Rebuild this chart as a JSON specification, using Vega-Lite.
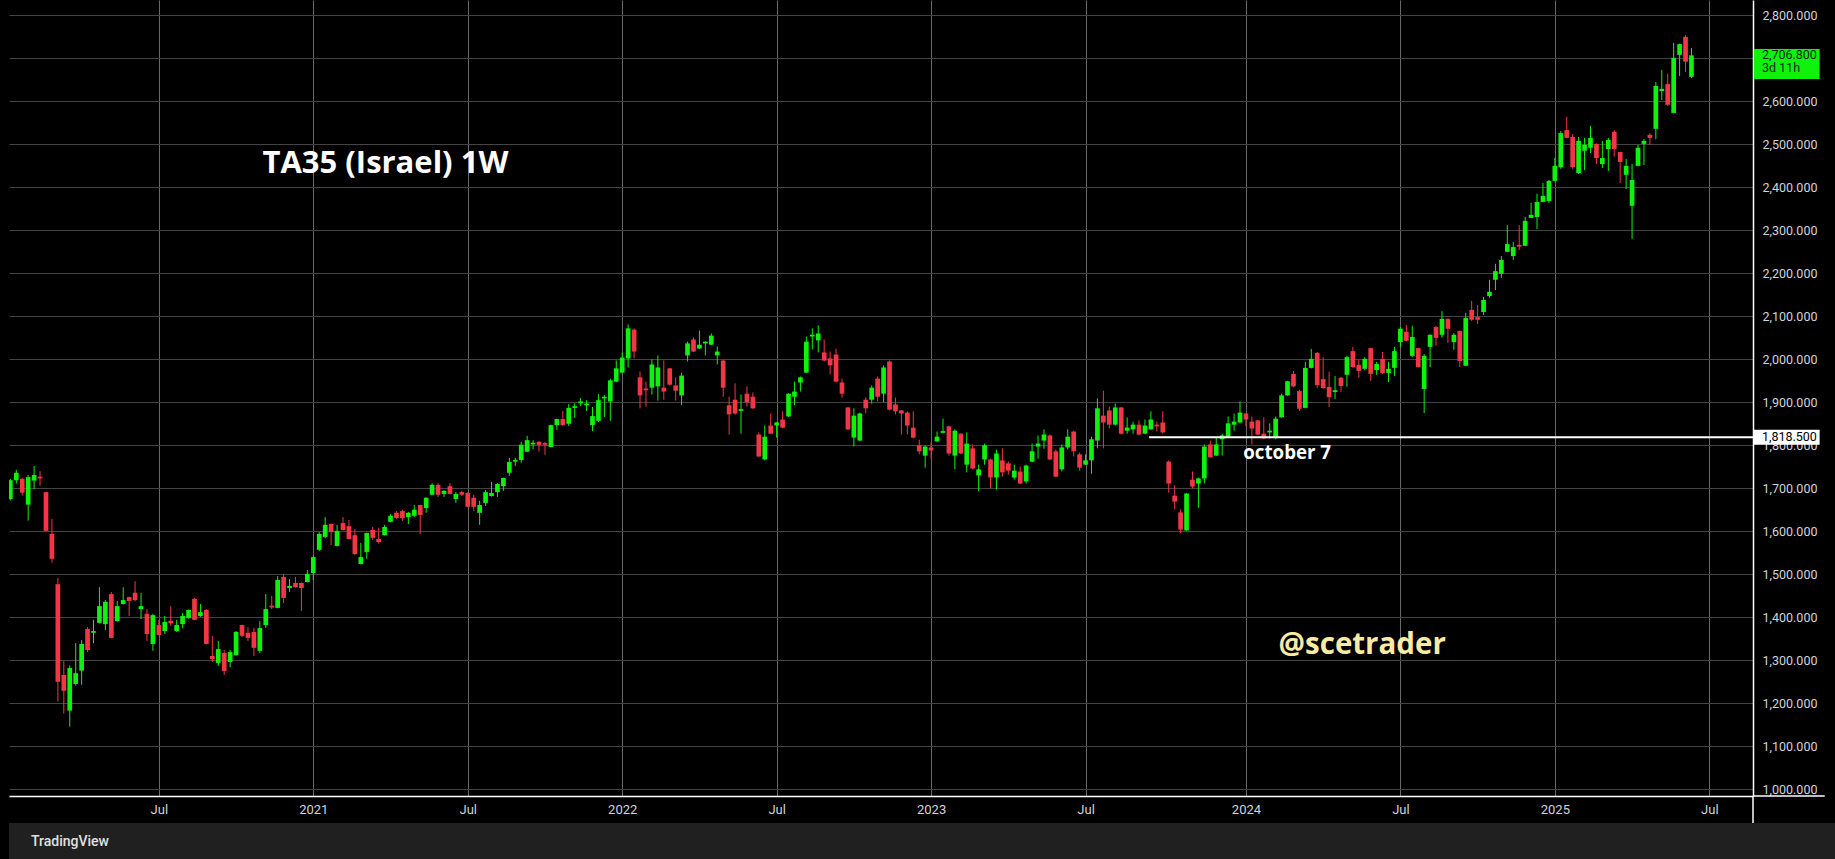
{
"$schema": "https://vega.github.io/schema/vega-lite/v6.json",
"background": "#000000",
"padding": {"left": 9, "top": 0, "right": 0, "bottom": 0},
"autosize": {"type": "pad"},
"config": {"view": {"stroke": null}, "font": "Roboto", "scale": {"continuousPadding": 0}},
"spacing": 27,
"bounds": "flush",
"datasets": {
"candles": [
{"d":"2020-01-12","o":1675,"h":1722,"l":1672,"c":1719},
{"d":"2020-01-19","o":1719,"h":1743,"l":1711,"c":1736},
{"d":"2020-01-26","o":1722,"h":1725,"l":1683,"c":1690},
{"d":"2020-02-02","o":1662,"h":1731,"l":1625,"c":1726},
{"d":"2020-02-09","o":1718,"h":1752,"l":1698,"c":1731},
{"d":"2020-02-16","o":1727,"h":1740,"l":1706,"c":1723},
{"d":"2020-02-23","o":1691,"h":1692,"l":1600,"c":1601},
{"d":"2020-03-01","o":1594,"h":1629,"l":1527,"c":1536},
{"d":"2020-03-08","o":1477,"h":1491,"l":1204,"c":1250},
{"d":"2020-03-15","o":1266,"h":1298,"l":1176,"c":1229},
{"d":"2020-03-22","o":1183,"h":1288,"l":1146,"c":1282},
{"d":"2020-03-29","o":1245,"h":1340,"l":1241,"c":1270},
{"d":"2020-04-05","o":1276,"h":1347,"l":1243,"c":1338},
{"d":"2020-04-12","o":1373,"h":1377,"l":1319,"c":1324},
{"d":"2020-04-19","o":1364,"h":1394,"l":1340,"c":1368},
{"d":"2020-04-26","o":1387,"h":1470,"l":1386,"c":1426},
{"d":"2020-05-03","o":1384,"h":1440,"l":1370,"c":1436},
{"d":"2020-05-10","o":1454,"h":1459,"l":1351,"c":1352},
{"d":"2020-05-17","o":1391,"h":1438,"l":1390,"c":1426},
{"d":"2020-05-24","o":1431,"h":1470,"l":1430,"c":1440},
{"d":"2020-05-31","o":1447,"h":1448,"l":1403,"c":1438},
{"d":"2020-06-07","o":1457,"h":1484,"l":1437,"c":1440},
{"d":"2020-06-14","o":1419,"h":1457,"l":1396,"c":1426},
{"d":"2020-06-21","o":1408,"h":1419,"l":1345,"c":1361},
{"d":"2020-06-28","o":1338,"h":1408,"l":1322,"c":1405},
{"d":"2020-07-05","o":1382,"h":1394,"l":1358,"c":1359},
{"d":"2020-07-12","o":1368,"h":1403,"l":1361,"c":1389},
{"d":"2020-07-19","o":1392,"h":1426,"l":1380,"c":1386},
{"d":"2020-07-26","o":1368,"h":1394,"l":1366,"c":1382},
{"d":"2020-08-02","o":1384,"h":1410,"l":1375,"c":1403},
{"d":"2020-08-09","o":1398,"h":1418,"l":1397,"c":1417},
{"d":"2020-08-16","o":1443,"h":1445,"l":1393,"c":1394},
{"d":"2020-08-23","o":1403,"h":1431,"l":1401,"c":1412},
{"d":"2020-08-30","o":1417,"h":1419,"l":1337,"c":1338},
{"d":"2020-09-06","o":1310,"h":1357,"l":1296,"c":1303},
{"d":"2020-09-13","o":1294,"h":1345,"l":1287,"c":1326},
{"d":"2020-09-20","o":1317,"h":1324,"l":1266,"c":1275},
{"d":"2020-09-27","o":1296,"h":1324,"l":1284,"c":1319},
{"d":"2020-10-04","o":1312,"h":1368,"l":1311,"c":1366},
{"d":"2020-10-11","o":1382,"h":1383,"l":1354,"c":1357},
{"d":"2020-10-18","o":1364,"h":1377,"l":1345,"c":1352},
{"d":"2020-10-25","o":1366,"h":1375,"l":1310,"c":1329},
{"d":"2020-11-01","o":1322,"h":1391,"l":1317,"c":1375},
{"d":"2020-11-08","o":1382,"h":1454,"l":1375,"c":1419},
{"d":"2020-11-15","o":1427,"h":1450,"l":1419,"c":1423},
{"d":"2020-11-22","o":1422,"h":1496,"l":1421,"c":1487},
{"d":"2020-11-29","o":1494,"h":1501,"l":1433,"c":1445},
{"d":"2020-12-06","o":1468,"h":1489,"l":1459,"c":1473},
{"d":"2020-12-13","o":1480,"h":1494,"l":1469,"c":1470},
{"d":"2020-12-20","o":1480,"h":1481,"l":1415,"c":1468},
{"d":"2020-12-27","o":1482,"h":1510,"l":1481,"c":1501},
{"d":"2021-01-03","o":1503,"h":1543,"l":1487,"c":1540},
{"d":"2021-01-10","o":1557,"h":1598,"l":1554,"c":1594},
{"d":"2021-01-17","o":1587,"h":1633,"l":1584,"c":1615},
{"d":"2021-01-24","o":1617,"h":1618,"l":1568,"c":1598},
{"d":"2021-01-31","o":1566,"h":1615,"l":1565,"c":1601},
{"d":"2021-02-07","o":1619,"h":1633,"l":1602,"c":1603},
{"d":"2021-02-14","o":1612,"h":1626,"l":1581,"c":1582},
{"d":"2021-02-21","o":1591,"h":1605,"l":1545,"c":1547},
{"d":"2021-02-28","o":1524,"h":1573,"l":1523,"c":1540},
{"d":"2021-03-07","o":1552,"h":1597,"l":1536,"c":1596},
{"d":"2021-03-14","o":1603,"h":1610,"l":1580,"c":1585},
{"d":"2021-03-21","o":1582,"h":1608,"l":1571,"c":1575},
{"d":"2021-03-28","o":1591,"h":1615,"l":1590,"c":1610},
{"d":"2021-04-04","o":1622,"h":1640,"l":1621,"c":1636},
{"d":"2021-04-11","o":1643,"h":1647,"l":1629,"c":1631},
{"d":"2021-04-18","o":1647,"h":1650,"l":1624,"c":1631},
{"d":"2021-04-25","o":1633,"h":1645,"l":1617,"c":1643},
{"d":"2021-05-02","o":1636,"h":1661,"l":1633,"c":1650},
{"d":"2021-05-09","o":1661,"h":1662,"l":1594,"c":1638},
{"d":"2021-05-16","o":1654,"h":1679,"l":1643,"c":1678},
{"d":"2021-05-23","o":1685,"h":1712,"l":1684,"c":1708},
{"d":"2021-05-30","o":1708,"h":1712,"l":1680,"c":1685},
{"d":"2021-06-06","o":1687,"h":1696,"l":1680,"c":1694},
{"d":"2021-06-13","o":1705,"h":1712,"l":1686,"c":1687},
{"d":"2021-06-20","o":1675,"h":1691,"l":1666,"c":1687},
{"d":"2021-06-27","o":1691,"h":1694,"l":1682,"c":1685},
{"d":"2021-07-04","o":1689,"h":1691,"l":1656,"c":1657},
{"d":"2021-07-11","o":1678,"h":1685,"l":1647,"c":1657},
{"d":"2021-07-18","o":1643,"h":1671,"l":1615,"c":1661},
{"d":"2021-07-25","o":1666,"h":1696,"l":1659,"c":1691},
{"d":"2021-08-01","o":1682,"h":1715,"l":1681,"c":1689},
{"d":"2021-08-08","o":1691,"h":1712,"l":1680,"c":1710},
{"d":"2021-08-15","o":1705,"h":1725,"l":1694,"c":1724},
{"d":"2021-08-22","o":1736,"h":1771,"l":1729,"c":1761},
{"d":"2021-08-29","o":1762,"h":1771,"l":1752,"c":1766},
{"d":"2021-09-05","o":1766,"h":1808,"l":1759,"c":1801},
{"d":"2021-09-12","o":1785,"h":1822,"l":1784,"c":1812},
{"d":"2021-09-19","o":1802,"h":1812,"l":1791,"c":1806},
{"d":"2021-09-26","o":1808,"h":1810,"l":1785,"c":1801},
{"d":"2021-10-03","o":1805,"h":1808,"l":1778,"c":1801},
{"d":"2021-10-10","o":1796,"h":1848,"l":1795,"c":1847},
{"d":"2021-10-17","o":1847,"h":1862,"l":1836,"c":1861},
{"d":"2021-10-24","o":1861,"h":1880,"l":1845,"c":1847},
{"d":"2021-10-31","o":1850,"h":1896,"l":1845,"c":1887},
{"d":"2021-11-07","o":1887,"h":1898,"l":1864,"c":1891},
{"d":"2021-11-14","o":1898,"h":1910,"l":1891,"c":1902},
{"d":"2021-11-21","o":1893,"h":1905,"l":1880,"c":1897},
{"d":"2021-11-28","o":1847,"h":1889,"l":1833,"c":1868},
{"d":"2021-12-05","o":1857,"h":1919,"l":1854,"c":1905},
{"d":"2021-12-12","o":1909,"h":1917,"l":1866,"c":1913},
{"d":"2021-12-19","o":1902,"h":1955,"l":1857,"c":1951},
{"d":"2021-12-26","o":1948,"h":1997,"l":1947,"c":1979},
{"d":"2022-01-02","o":1969,"h":2016,"l":1968,"c":2004},
{"d":"2022-01-09","o":2002,"h":2081,"l":1981,"c":2072},
{"d":"2022-01-16","o":2069,"h":2072,"l":2002,"c":2018},
{"d":"2022-01-23","o":1958,"h":1972,"l":1886,"c":1916},
{"d":"2022-01-30","o":1932,"h":1948,"l":1890,"c":1928},
{"d":"2022-02-06","o":1934,"h":2000,"l":1918,"c":1988},
{"d":"2022-02-13","o":1937,"h":2009,"l":1904,"c":1981},
{"d":"2022-02-20","o":1934,"h":1997,"l":1906,"c":1925},
{"d":"2022-02-27","o":1979,"h":1980,"l":1939,"c":1941},
{"d":"2022-03-06","o":1939,"h":1958,"l":1904,"c":1927},
{"d":"2022-03-13","o":1916,"h":1969,"l":1893,"c":1962},
{"d":"2022-03-20","o":2009,"h":2041,"l":1995,"c":2037},
{"d":"2022-03-27","o":2046,"h":2051,"l":2017,"c":2018},
{"d":"2022-04-03","o":2025,"h":2067,"l":2024,"c":2034},
{"d":"2022-04-10","o":2037,"h":2042,"l":2009,"c":2041},
{"d":"2022-04-17","o":2034,"h":2060,"l":2033,"c":2055},
{"d":"2022-04-24","o":2009,"h":2030,"l":1988,"c":2018},
{"d":"2022-05-01","o":1997,"h":1998,"l":1913,"c":1934},
{"d":"2022-05-08","o":1893,"h":1913,"l":1825,"c":1872},
{"d":"2022-05-15","o":1906,"h":1944,"l":1871,"c":1874},
{"d":"2022-05-22","o":1880,"h":1918,"l":1827,"c":1884},
{"d":"2022-05-29","o":1920,"h":1937,"l":1890,"c":1900},
{"d":"2022-06-05","o":1913,"h":1923,"l":1885,"c":1886},
{"d":"2022-06-12","o":1825,"h":1830,"l":1772,"c":1774},
{"d":"2022-06-19","o":1767,"h":1846,"l":1765,"c":1820},
{"d":"2022-06-26","o":1846,"h":1874,"l":1826,"c":1827},
{"d":"2022-07-03","o":1846,"h":1854,"l":1818,"c":1853},
{"d":"2022-07-10","o":1860,"h":1879,"l":1840,"c":1841},
{"d":"2022-07-17","o":1867,"h":1921,"l":1866,"c":1920},
{"d":"2022-07-24","o":1913,"h":1948,"l":1893,"c":1925},
{"d":"2022-07-31","o":1946,"h":1960,"l":1925,"c":1958},
{"d":"2022-08-07","o":1969,"h":2053,"l":1968,"c":2041},
{"d":"2022-08-14","o":2053,"h":2072,"l":2023,"c":2057},
{"d":"2022-08-21","o":2044,"h":2079,"l":2016,"c":2060},
{"d":"2022-08-28","o":2016,"h":2046,"l":1995,"c":1997},
{"d":"2022-09-04","o":2002,"h":2018,"l":1965,"c":1986},
{"d":"2022-09-11","o":2011,"h":2025,"l":1946,"c":1948},
{"d":"2022-09-18","o":1946,"h":1955,"l":1911,"c":1920},
{"d":"2022-09-25","o":1888,"h":1889,"l":1836,"c":1837},
{"d":"2022-10-02","o":1818,"h":1886,"l":1797,"c":1869},
{"d":"2022-10-09","o":1811,"h":1876,"l":1810,"c":1874},
{"d":"2022-10-16","o":1906,"h":1911,"l":1874,"c":1886},
{"d":"2022-10-23","o":1906,"h":1939,"l":1897,"c":1934},
{"d":"2022-10-30","o":1955,"h":1960,"l":1902,"c":1913},
{"d":"2022-11-06","o":1920,"h":1986,"l":1900,"c":1981},
{"d":"2022-11-13","o":1995,"h":1997,"l":1881,"c":1883},
{"d":"2022-11-20","o":1895,"h":1911,"l":1872,"c":1879},
{"d":"2022-11-27","o":1881,"h":1882,"l":1825,"c":1874},
{"d":"2022-12-04","o":1876,"h":1879,"l":1825,"c":1846},
{"d":"2022-12-11","o":1841,"h":1879,"l":1816,"c":1818},
{"d":"2022-12-18","o":1800,"h":1813,"l":1779,"c":1786},
{"d":"2022-12-25","o":1776,"h":1800,"l":1748,"c":1797},
{"d":"2023-01-01","o":1795,"h":1807,"l":1769,"c":1788},
{"d":"2023-01-08","o":1809,"h":1832,"l":1808,"c":1820},
{"d":"2023-01-15","o":1829,"h":1862,"l":1828,"c":1833},
{"d":"2023-01-22","o":1844,"h":1846,"l":1776,"c":1781},
{"d":"2023-01-29","o":1776,"h":1837,"l":1744,"c":1834},
{"d":"2023-02-05","o":1827,"h":1828,"l":1780,"c":1781},
{"d":"2023-02-12","o":1755,"h":1830,"l":1737,"c":1804},
{"d":"2023-02-19","o":1793,"h":1802,"l":1744,"c":1746},
{"d":"2023-02-26","o":1730,"h":1755,"l":1693,"c":1744},
{"d":"2023-03-05","o":1767,"h":1804,"l":1755,"c":1800},
{"d":"2023-03-12","o":1767,"h":1769,"l":1700,"c":1725},
{"d":"2023-03-19","o":1725,"h":1790,"l":1697,"c":1781},
{"d":"2023-03-26","o":1765,"h":1793,"l":1727,"c":1737},
{"d":"2023-04-02","o":1758,"h":1762,"l":1732,"c":1741},
{"d":"2023-04-09","o":1725,"h":1755,"l":1720,"c":1741},
{"d":"2023-04-16","o":1739,"h":1751,"l":1710,"c":1711},
{"d":"2023-04-23","o":1716,"h":1755,"l":1711,"c":1753},
{"d":"2023-04-30","o":1762,"h":1804,"l":1761,"c":1786},
{"d":"2023-05-07","o":1797,"h":1823,"l":1769,"c":1804},
{"d":"2023-05-14","o":1811,"h":1837,"l":1792,"c":1825},
{"d":"2023-05-21","o":1823,"h":1825,"l":1766,"c":1767},
{"d":"2023-05-28","o":1786,"h":1790,"l":1726,"c":1727},
{"d":"2023-06-04","o":1744,"h":1802,"l":1739,"c":1795},
{"d":"2023-06-11","o":1795,"h":1837,"l":1790,"c":1820},
{"d":"2023-06-18","o":1832,"h":1834,"l":1774,"c":1786},
{"d":"2023-06-25","o":1779,"h":1783,"l":1741,"c":1748},
{"d":"2023-07-02","o":1755,"h":1779,"l":1754,"c":1765},
{"d":"2023-07-09","o":1765,"h":1820,"l":1734,"c":1814},
{"d":"2023-07-16","o":1811,"h":1909,"l":1793,"c":1886},
{"d":"2023-07-23","o":1869,"h":1927,"l":1793,"c":1853},
{"d":"2023-07-30","o":1881,"h":1890,"l":1839,"c":1848},
{"d":"2023-08-06","o":1848,"h":1897,"l":1846,"c":1888},
{"d":"2023-08-13","o":1888,"h":1889,"l":1825,"c":1827},
{"d":"2023-08-20","o":1834,"h":1865,"l":1827,"c":1841},
{"d":"2023-08-27","o":1837,"h":1855,"l":1827,"c":1848},
{"d":"2023-09-03","o":1848,"h":1858,"l":1823,"c":1825},
{"d":"2023-09-10","o":1827,"h":1860,"l":1826,"c":1846},
{"d":"2023-09-17","o":1837,"h":1879,"l":1836,"c":1860},
{"d":"2023-09-24","o":1848,"h":1855,"l":1832,"c":1844},
{"d":"2023-10-01","o":1853,"h":1879,"l":1827,"c":1830},
{"d":"2023-10-08","o":1762,"h":1765,"l":1690,"c":1711},
{"d":"2023-10-15","o":1683,"h":1707,"l":1651,"c":1669},
{"d":"2023-10-22","o":1644,"h":1651,"l":1595,"c":1604},
{"d":"2023-10-29","o":1602,"h":1689,"l":1601,"c":1688},
{"d":"2023-11-05","o":1720,"h":1739,"l":1700,"c":1704},
{"d":"2023-11-12","o":1711,"h":1725,"l":1655,"c":1723},
{"d":"2023-11-19","o":1723,"h":1802,"l":1711,"c":1797},
{"d":"2023-11-26","o":1802,"h":1811,"l":1771,"c":1772},
{"d":"2023-12-03","o":1776,"h":1818,"l":1775,"c":1802},
{"d":"2023-12-10","o":1814,"h":1827,"l":1776,"c":1823},
{"d":"2023-12-17","o":1820,"h":1867,"l":1818,"c":1851},
{"d":"2023-12-24","o":1848,"h":1874,"l":1834,"c":1855},
{"d":"2023-12-31","o":1853,"h":1902,"l":1851,"c":1876},
{"d":"2024-01-07","o":1874,"h":1875,"l":1844,"c":1860},
{"d":"2024-01-14","o":1855,"h":1867,"l":1802,"c":1839},
{"d":"2024-01-21","o":1858,"h":1859,"l":1824,"c":1825},
{"d":"2024-01-28","o":1827,"h":1865,"l":1815,"c":1816},
{"d":"2024-02-04","o":1830,"h":1851,"l":1816,"c":1834},
{"d":"2024-02-11","o":1818,"h":1867,"l":1814,"c":1862},
{"d":"2024-02-18","o":1865,"h":1920,"l":1864,"c":1916},
{"d":"2024-02-25","o":1916,"h":1950,"l":1915,"c":1949},
{"d":"2024-03-03","o":1966,"h":1973,"l":1935,"c":1937},
{"d":"2024-03-10","o":1926,"h":1929,"l":1880,"c":1885},
{"d":"2024-03-17","o":1887,"h":1994,"l":1886,"c":1980},
{"d":"2024-03-24","o":1980,"h":2024,"l":1979,"c":2001},
{"d":"2024-03-31","o":2015,"h":2017,"l":1933,"c":1940},
{"d":"2024-04-07","o":1954,"h":2005,"l":1932,"c":1933},
{"d":"2024-04-14","o":1936,"h":1971,"l":1889,"c":1912},
{"d":"2024-04-21","o":1924,"h":1961,"l":1908,"c":1928},
{"d":"2024-04-28","o":1957,"h":1959,"l":1924,"c":1938},
{"d":"2024-05-05","o":1964,"h":2008,"l":1936,"c":2005},
{"d":"2024-05-12","o":2019,"h":2029,"l":1980,"c":1982},
{"d":"2024-05-19","o":1987,"h":1998,"l":1957,"c":1973},
{"d":"2024-05-26","o":1978,"h":2005,"l":1975,"c":2001},
{"d":"2024-06-02","o":2026,"h":2027,"l":1950,"c":1966},
{"d":"2024-06-09","o":1975,"h":1994,"l":1964,"c":1989},
{"d":"2024-06-16","o":2001,"h":2017,"l":1966,"c":1968},
{"d":"2024-06-23","o":1968,"h":1994,"l":1947,"c":1978},
{"d":"2024-06-30","o":1980,"h":2029,"l":1961,"c":2019},
{"d":"2024-07-07","o":2040,"h":2075,"l":2029,"c":2071},
{"d":"2024-07-14","o":2064,"h":2080,"l":2042,"c":2043},
{"d":"2024-07-21","o":2008,"h":2078,"l":2005,"c":2052},
{"d":"2024-07-28","o":2026,"h":2027,"l":1981,"c":1982},
{"d":"2024-08-04","o":1931,"h":2012,"l":1875,"c":2008},
{"d":"2024-08-11","o":2029,"h":2058,"l":1982,"c":2057},
{"d":"2024-08-18","o":2075,"h":2078,"l":2031,"c":2050},
{"d":"2024-08-25","o":2057,"h":2112,"l":2050,"c":2094},
{"d":"2024-09-01","o":2094,"h":2095,"l":2038,"c":2071},
{"d":"2024-09-08","o":2040,"h":2061,"l":2022,"c":2057},
{"d":"2024-09-15","o":2066,"h":2067,"l":1982,"c":1996},
{"d":"2024-09-22","o":1985,"h":2108,"l":1984,"c":2096},
{"d":"2024-09-29","o":2115,"h":2136,"l":2089,"c":2092},
{"d":"2024-10-06","o":2098,"h":2126,"l":2082,"c":2092},
{"d":"2024-10-13","o":2110,"h":2145,"l":2103,"c":2138},
{"d":"2024-10-20","o":2147,"h":2185,"l":2143,"c":2157},
{"d":"2024-10-27","o":2185,"h":2222,"l":2161,"c":2205},
{"d":"2024-11-03","o":2199,"h":2240,"l":2189,"c":2231},
{"d":"2024-11-10","o":2250,"h":2312,"l":2249,"c":2268},
{"d":"2024-11-17","o":2240,"h":2273,"l":2231,"c":2261},
{"d":"2024-11-24","o":2266,"h":2312,"l":2254,"c":2262},
{"d":"2024-12-01","o":2264,"h":2331,"l":2263,"c":2322},
{"d":"2024-12-08","o":2329,"h":2364,"l":2328,"c":2336},
{"d":"2024-12-15","o":2331,"h":2385,"l":2303,"c":2366},
{"d":"2024-12-22","o":2366,"h":2410,"l":2365,"c":2380},
{"d":"2024-12-29","o":2368,"h":2417,"l":2364,"c":2415},
{"d":"2025-01-05","o":2415,"h":2468,"l":2414,"c":2450},
{"d":"2025-01-12","o":2447,"h":2531,"l":2443,"c":2526},
{"d":"2025-01-19","o":2533,"h":2564,"l":2514,"c":2515},
{"d":"2025-01-26","o":2517,"h":2524,"l":2443,"c":2447},
{"d":"2025-02-02","o":2433,"h":2517,"l":2431,"c":2508},
{"d":"2025-02-09","o":2485,"h":2515,"l":2440,"c":2499},
{"d":"2025-02-16","o":2492,"h":2543,"l":2480,"c":2515},
{"d":"2025-02-23","o":2501,"h":2502,"l":2454,"c":2468},
{"d":"2025-03-02","o":2454,"h":2508,"l":2445,"c":2468},
{"d":"2025-03-09","o":2489,"h":2515,"l":2438,"c":2510},
{"d":"2025-03-16","o":2529,"h":2533,"l":2471,"c":2489},
{"d":"2025-03-23","o":2482,"h":2483,"l":2410,"c":2459},
{"d":"2025-03-30","o":2429,"h":2466,"l":2396,"c":2450},
{"d":"2025-04-06","o":2357,"h":2454,"l":2280,"c":2417},
{"d":"2025-04-13","o":2450,"h":2499,"l":2449,"c":2492},
{"d":"2025-04-20","o":2501,"h":2512,"l":2452,"c":2508},
{"d":"2025-04-27","o":2522,"h":2526,"l":2499,"c":2515},
{"d":"2025-05-04","o":2536,"h":2645,"l":2512,"c":2636},
{"d":"2025-05-11","o":2624,"h":2673,"l":2603,"c":2629},
{"d":"2025-05-18","o":2640,"h":2664,"l":2589,"c":2592},
{"d":"2025-05-25","o":2573,"h":2736,"l":2572,"c":2701},
{"d":"2025-06-01","o":2708,"h":2734,"l":2659,"c":2733},
{"d":"2025-06-08","o":2750,"h":2754,"l":2668,"c":2692},
{"d":"2025-06-15","o":2657,"h":2724,"l":2654,"c":2706.8}
]
},
"vconcat": [
{
"width": 1744,
"height": 796,
"layer": [
{
"data": {"name": "candles"},
"mark": {"type": "rule", "strokeWidth": 1, "clip": true},
"encoding": {
"x": {"field": "d", "type": "temporal",
"scale": {"type": "utc", "padding": 0, "domain": [{"year": 2020, "month": "Jan", "date": 10, "hours": 10, "utc": true}, {"year": 2025, "month": "Aug", "date": 26, "hours": 12, "utc": true}]},
"axis": {"title": null, "values": [
{"year": 2020, "month": "Jul", "date": 5, "utc": true},
{"year": 2021, "month": "Jan", "date": 3, "utc": true},
{"year": 2021, "month": "Jul", "date": 4, "utc": true},
{"year": 2022, "month": "Jan", "date": 2, "utc": true},
{"year": 2022, "month": "Jul", "date": 3, "utc": true},
{"year": 2023, "month": "Jan", "date": 1, "utc": true},
{"year": 2023, "month": "Jul", "date": 2, "utc": true},
{"year": 2024, "month": "Jan", "date": 7, "utc": true},
{"year": 2024, "month": "Jul", "date": 7, "utc": true},
{"year": 2025, "month": "Jan", "date": 5, "utc": true},
{"year": 2025, "month": "Jul", "date": 6, "utc": true}],
"labelExpr": "utcmonth(datum.value) == 0 ? utcFormat(datum.value, '%Y') : 'Jul'",
"grid": true, "gridColor": "#6a6a6a", "gridWidth": 1,
"ticks": false, "domain": true, "domainColor": "#ffffff", "domainWidth": 1.5,
"labelColor": "#d1d4dc", "labelFontSize": 13, "labelFont": "Roboto", "labelPadding": 7,
"labelOverlap": false, "labelFlush": false, "zindex": 0}},
"y": {"field": "l", "type": "quantitative",
"scale": {"domain": [984.4, 2835.6], "nice": false, "zero": false, "padding": 0},
"axis": {"title": null, "orient": "right",
"values": [1000,1100,1200,1300,1400,1500,1600,1700,1800,1900,2000,2100,2200,2300,2400,2500,2600,2700,2800],
"format": ",.3f", "grid": true, "gridColor": "#444444", "gridWidth": 1,
"ticks": false, "domain": true, "domainColor": "#ffffff", "domainWidth": 1.5,
"labelColor": "#d1d4dc", "labelFontSize": 12.5, "labelFont": "Roboto", "labelPadding": 9,
"labelOpacity": {"condition": {"test": "datum.value == 2700", "value": 0}, "value": 1},
"labelOverlap": false, "labelFlush": false, "zindex": 0}},
"y2": {"field": "h"},
"color": {"condition": {"test": "datum.c >= datum.o", "value": "#0ef20e"}, "value": "#f23645"}
}
},
{
"data": {"name": "candles"},
"mark": {"type": "bar", "width": 4.7, "clip": true},
"encoding": {
"x": {"field": "d", "type": "temporal", "scale": {"type": "utc", "padding": 0, "domain": [{"year": 2020, "month": "Jan", "date": 10, "hours": 10, "utc": true}, {"year": 2025, "month": "Aug", "date": 26, "hours": 12, "utc": true}]}},
"y": {"field": "o", "type": "quantitative", "scale": {"domain": [984.4, 2835.6], "nice": false, "zero": false, "padding": 0}},
"y2": {"field": "c"},
"color": {"condition": {"test": "datum.c >= datum.o", "value": "#0ef20e"}, "value": "#f23645"}
}
},
{
"data": {"values": [{"a": "2023-09-14T20:00:00Z", "b": "2025-08-26T12:00:00Z", "p": 1818.5}]},
"mark": {"type": "rule", "color": "#ffffff", "strokeWidth": 2},
"encoding": {
"x": {"field": "a", "type": "temporal", "scale": {"type": "utc", "padding": 0, "domain": [{"year": 2020, "month": "Jan", "date": 10, "hours": 10, "utc": true}, {"year": 2025, "month": "Aug", "date": 26, "hours": 12, "utc": true}]}},
"x2": {"field": "b"},
"y": {"field": "p", "type": "quantitative", "scale": {"domain": [984.4, 2835.6], "nice": false, "zero": false, "padding": 0}}
}
},
{
"data": {"values": [{"a": "2025-08-26T12:00:00Z", "b": "2025-11-19T00:00:00Z", "p": 984.4}]},
"mark": {"type": "rule", "color": "#ffffff", "strokeWidth": 1.5},
"encoding": {
"x": {"field": "a", "type": "temporal", "scale": {"type": "utc", "padding": 0, "domain": [{"year": 2020, "month": "Jan", "date": 10, "hours": 10, "utc": true}, {"year": 2025, "month": "Aug", "date": 26, "hours": 12, "utc": true}]}},
"x2": {"field": "b"},
"y": {"field": "p", "type": "quantitative", "scale": {"domain": [984.4, 2835.6], "nice": false, "zero": false, "padding": 0}}
}
},
{
"data": {"values": [{"a": "2025-08-26T12:00:00Z", "p": 921.6, "q": 984.4}]},
"mark": {"type": "rule", "color": "#ffffff", "strokeWidth": 1.5},
"encoding": {
"x": {"field": "a", "type": "temporal", "scale": {"type": "utc", "padding": 0, "domain": [{"year": 2020, "month": "Jan", "date": 10, "hours": 10, "utc": true}, {"year": 2025, "month": "Aug", "date": 26, "hours": 12, "utc": true}]}},
"y": {"field": "p", "type": "quantitative", "scale": {"domain": [984.4, 2835.6], "nice": false, "zero": false, "padding": 0}},
"y2": {"field": "q"}
}
},
{
"data": {"values": [{"a": "2025-08-27T12:00:00Z", "b": "2025-11-13T00:00:00Z", "p": 1818.5}]},
"mark": {"type": "rule", "color": "#ffffff", "strokeWidth": 15, "strokeCap": "butt"},
"encoding": {
"x": {"field": "a", "type": "temporal", "scale": {"type": "utc", "padding": 0, "domain": [{"year": 2020, "month": "Jan", "date": 10, "hours": 10, "utc": true}, {"year": 2025, "month": "Aug", "date": 26, "hours": 12, "utc": true}]}},
"x2": {"field": "b"},
"y": {"field": "p", "type": "quantitative", "scale": {"domain": [984.4, 2835.6], "nice": false, "zero": false, "padding": 0}}
}
},
{
"data": {"values": [{"a": "2025-08-27T12:00:00Z", "b": "2025-11-13T00:00:00Z", "p": 2706.8}]},
"mark": {"type": "rule", "color": "#0ef20e", "strokeWidth": 30, "strokeCap": "butt", "yOffset": 8.5},
"encoding": {
"x": {"field": "a", "type": "temporal", "scale": {"type": "utc", "padding": 0, "domain": [{"year": 2020, "month": "Jan", "date": 10, "hours": 10, "utc": true}, {"year": 2025, "month": "Aug", "date": 26, "hours": 12, "utc": true}]}},
"x2": {"field": "b"},
"y": {"field": "p", "type": "quantitative", "scale": {"domain": [984.4, 2835.6], "nice": false, "zero": false, "padding": 0}}
}
},
{
"data": {"values": [{"a": "2025-09-06T00:00:00Z", "p": 1818.5, "t": "1,818.500"}]},
"mark": {"type": "text", "align": "left", "baseline": "middle", "color": "#000000", "fontSize": 12.5, "font": "Roboto"},
"encoding": {
"x": {"field": "a", "type": "temporal", "scale": {"type": "utc", "padding": 0, "domain": [{"year": 2020, "month": "Jan", "date": 10, "hours": 10, "utc": true}, {"year": 2025, "month": "Aug", "date": 26, "hours": 12, "utc": true}]}},
"y": {"field": "p", "type": "quantitative", "scale": {"domain": [984.4, 2835.6], "nice": false, "zero": false, "padding": 0}},
"text": {"field": "t"}
}
},
{
"data": {"values": [{"a": "2025-09-06T00:00:00Z", "p": 2706.8, "t": "2,706.800|3d 11h"}]},
"mark": {"type": "text", "align": "left", "baseline": "top", "yOffset": -6, "lineBreak": "|", "lineHeight": 13, "color": "#0a2a0a", "fontSize": 12.5, "font": "Roboto"},
"encoding": {
"x": {"field": "a", "type": "temporal", "scale": {"type": "utc", "padding": 0, "domain": [{"year": 2020, "month": "Jan", "date": 10, "hours": 10, "utc": true}, {"year": 2025, "month": "Aug", "date": 26, "hours": 12, "utc": true}]}},
"y": {"field": "p", "type": "quantitative", "scale": {"domain": [984.4, 2835.6], "nice": false, "zero": false, "padding": 0}},
"text": {"field": "t"}
}
},
{
"data": {"values": [{"a": "2021-03-29T00:00:00Z", "p": 2455, "t": "TA35 (Israel) 1W"}]},
"mark": {"type": "text", "align": "center", "baseline": "middle", "color": "#ffffff", "fontSize": 31, "font": "Open Sans", "fontWeight": "bold"},
"encoding": {
"x": {"field": "a", "type": "temporal", "scale": {"type": "utc", "padding": 0, "domain": [{"year": 2020, "month": "Jan", "date": 10, "hours": 10, "utc": true}, {"year": 2025, "month": "Aug", "date": 26, "hours": 12, "utc": true}]}},
"y": {"field": "p", "type": "quantitative", "scale": {"domain": [984.4, 2835.6], "nice": false, "zero": false, "padding": 0}},
"text": {"field": "t"}
}
},
{
"data": {"values": [{"a": "2024-05-23T00:00:00Z", "p": 1335, "t": "@scetrader"}]},
"mark": {"type": "text", "align": "center", "baseline": "middle", "color": "#f9eaa6", "fontSize": 29.5, "font": "Open Sans", "fontWeight": "bold"},
"encoding": {
"x": {"field": "a", "type": "temporal", "scale": {"type": "utc", "padding": 0, "domain": [{"year": 2020, "month": "Jan", "date": 10, "hours": 10, "utc": true}, {"year": 2025, "month": "Aug", "date": 26, "hours": 12, "utc": true}]}},
"y": {"field": "p", "type": "quantitative", "scale": {"domain": [984.4, 2835.6], "nice": false, "zero": false, "padding": 0}},
"text": {"field": "t"}
}
},
{
"data": {"values": [{"a": "2024-02-24T14:00:00Z", "p": 1783, "t": "october 7"}]},
"mark": {"type": "text", "align": "center", "baseline": "middle", "color": "#ffffff", "fontSize": 18.7, "font": "Open Sans", "fontWeight": "bold"},
"encoding": {
"x": {"field": "a", "type": "temporal", "scale": {"type": "utc", "padding": 0, "domain": [{"year": 2020, "month": "Jan", "date": 10, "hours": 10, "utc": true}, {"year": 2025, "month": "Aug", "date": 26, "hours": 12, "utc": true}]}},
"y": {"field": "p", "type": "quantitative", "scale": {"domain": [984.4, 2835.6], "nice": false, "zero": false, "padding": 0}},
"text": {"field": "t"}
}
}
]
},
{
"width": 1826,
"height": 36,
"view": {"fill": "#202020", "stroke": null},
"data": {"values": [{"t": ""}]},
"mark": {"type": "text", "text": ""},
"title": {"text": "TradingView", "orient": "bottom", "anchor": "start", "offset": -24, "dx": 22, "color": "#e0e0e0", "fontSize": 14, "font": "Roboto", "fontWeight": 500}
}
]
}
